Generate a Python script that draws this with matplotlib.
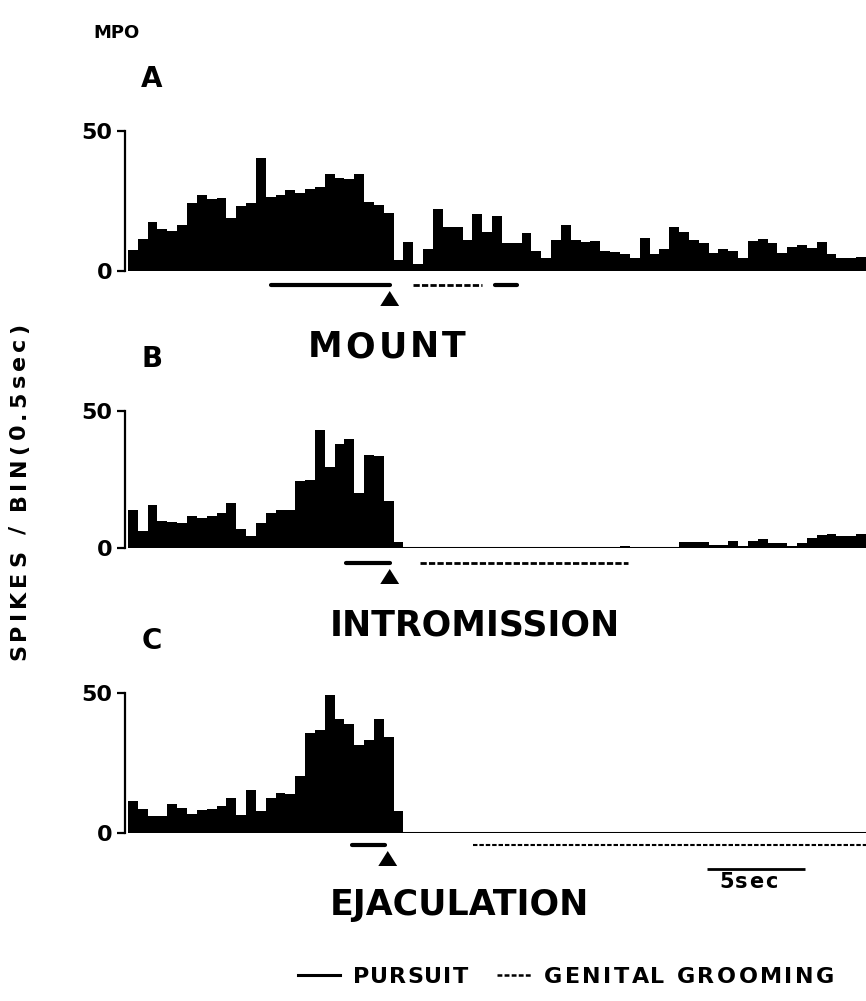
import matplotlib.pyplot as plt
from matplotlib.font_manager import FontProperties
import numpy as np

plt.rcParams["font.family"] = "DejaVu Sans"
plt.rcParams["font.weight"] = "bold"
plt.rcParams["lines.scale_dashes"] = False

W, H = 866, 1001
bin_width = 0.5  # seconds per bin

# spike counts per 0.5 s bin
mount_counts = [
    7.5, 11.6, 17.5, 15, 14.3, 16.6, 24.3, 27, 25.8, 26,
    18.9, 23.3, 24.2, 40.5, 26.5, 27, 28.9, 27.7, 29.2, 30,
    34.8, 33.3, 32.7, 34.8, 24.5, 23.5, 20.8, 3.9, 10.5, 2.4,
    7.7, 22.2, 15.8, 15.8, 11, 20.4, 14, 19.6, 9.9, 9.9,
    13.7, 7.1, 4.5, 11, 16.6, 11, 10.2, 10.7, 7.1, 6.9,
    5.9, 4.5, 11.9, 6.1, 7.8, 15.6, 13.9, 11, 10.1, 6.3,
    7.7, 7.2, 4.5, 10.8, 11.5, 9.9, 6.3, 8.7, 9.4, 8.1,
    10.5, 5.9, 4.8, 4.8, 5.1,
]
intromission_counts = [
    13.8, 6.1, 15.6, 9.9, 9.6, 9.1, 11.6, 11.1, 11.8, 12.6,
    16.5, 7, 4.5, 9.1, 12.8, 13.7, 13.8, 24.4, 24.8, 42.9,
    29.5, 38, 39.9, 19.9, 34.1, 33.4, 17.1, 2.2, 0.5, 0,
    0, 0, 0, 0, 0, 0, 0, 0, 0, 0,
    0, 0, 0, 0, 0, 0, 0, 0, 0, 0,
    0.6, 0, 0, 0, 0, 0, 2.2, 2.2, 2.2, 1.0,
    1.0, 2.4, 0.6, 2.4, 3.3, 1.8, 1.8, 0.6, 1.8, 3.7,
    4.6, 5.2, 4.5, 4.3, 5.1,
]
ejaculation_counts = [
    11.3, 8.5, 6.1, 6.1, 10.2, 8.8, 6.9, 8.3, 8.5, 9.5,
    12.4, 6.3, 15.5, 7.9, 12.6, 14.3, 13.8, 20.5, 35.7, 36.7,
    49.4, 40.7, 39, 31.5, 33.3, 40.7, 34.3, 8, 0, 0,
    0, 0, 0, 0, 0, 0, 0, 0, 0, 0,
    0, 0, 0, 0, 0, 0, 0, 0, 0, 0,
    0, 0, 0, 0, 0, 0, 0, 0, 0, 0,
    0, 0, 0, 0, 0, 0, 0, 0, 0, 0,
    0, 0, 0, 0, 0,
]

# behaviour intervals (s) and event times (s)
mount_pursuit = [(7.25, 13.3), (18.65, 19.75)]
mount_grooming = [(14.5, 18.0)]
intromission_pursuit = [(11.1, 13.3)]
intromission_grooming = [(14.85, 25.4)]
ejaculation_pursuit = [(11.4, 13.05)]
ejaculation_grooming = [(17.55, 37.5)]
event_times = [13.3, 13.3, 13.2]
scale_bar = (29.4, 34.4)

panels = [
    # counts, pursuit, grooming, letter, title, zero px, fifty px, lane px, title x, title y, tracking
    (mount_counts, mount_pursuit, mount_grooming, "A", "MOUNT", 271, 131, 14, 308, 357, 3.0),
    (intromission_counts, intromission_pursuit, intromission_grooming, "B",
     "INTROMISSION", 548, 411, 15, 330, 636, 0.0),
    (ejaculation_counts, ejaculation_pursuit, ejaculation_grooming, "C",
     "EJACULATION", 833, 693, 12, 330, 915, 0.0),
]

fig = plt.figure(figsize=(W / 100, H / 100), dpi=100)
renderer = fig.canvas.get_renderer()
left_px, right_px = 125, 866


def tracked_text(x, y, s, size, track, vertical=False):
    """Bold text with extra spacing between letters; x, y (baseline) in px from top-left."""
    prop = FontProperties(family="DejaVu Sans", weight="bold", size=size)
    if track == 0:
        fig.text(x / W, 1 - y / H, s, fontproperties=prop, ha="left", va="baseline",
                 rotation=90 if vertical else 0, rotation_mode="anchor")
        return
    ref = renderer.get_text_width_height_descent("I", prop, ismath=False)[0]
    for k, ch in enumerate(s):
        if ch == " ":
            continue
        off = 0.0
        if k:
            off = renderer.get_text_width_height_descent(s[:k] + "I", prop, ismath=False)[0] - ref
        off += k * track
        if vertical:
            fig.text(x / W, 1 - (y - off) / H, ch, fontproperties=prop, rotation=90,
                     rotation_mode="anchor", ha="left", va="baseline")
        else:
            fig.text((x + off) / W, 1 - y / H, ch, fontproperties=prop,
                     ha="left", va="baseline")


for i, (counts, pursuit, grooming, letter, title, y0, y50, lane, tx, ty, trk) in enumerate(panels):
    ax = fig.add_axes([left_px / W, 1 - y0 / H, (right_px - left_px) / W, (y0 - y50) / H])
    edges = np.arange(len(counts) + 1) * bin_width
    ax.stairs(counts, edges, fill=True, color="black", linewidth=0)
    ax.plot([0, edges[-1]], [0, 0], color="black", lw=2.2, solid_capstyle="butt")
    ax.set_xlim(-0.15, edges[-1])
    ax.set_ylim(0, 50)

    for s in ["top", "right", "bottom"]:
        ax.spines[s].set_visible(False)
    ax.spines["left"].set_linewidth(1.6)
    ax.set_xticks([])
    ax.set_yticks([0, 50])
    ax.tick_params(axis="y", direction="out", length=6, width=1.6, pad=3,
                   labelsize=16)
    for lab in ax.get_yticklabels():
        lab.set_fontweight("bold")

    upp = (y0 - y50) / 50.0  # px per count unit
    lane_y = -lane / upp
    for a, b in pursuit:
        ax.plot([a, b], [lane_y, lane_y], color="black", lw=3.0,
                solid_capstyle="round", clip_on=False)
    dash = [4.5, 1.6] if i < 2 else [3.2, 1.4]
    for a, b in grooming:
        ax.plot([a, b], [lane_y, lane_y], color="black", lw=2.0 if i < 2 else 1.5,
                dashes=dash, dash_capstyle="butt", clip_on=False)

    # event marker
    t = event_times[i]
    tip = -(lane + 6) / upp
    base = -(lane + 21) / upp
    ax.fill([t - 0.48, t + 0.48, t], [base, base, tip], color="black",
            lw=0, clip_on=False)

    if i == 2:
        sb_y = -35.5 / upp
        ax.plot(scale_bar, [sb_y, sb_y], color="black", lw=2.0,
                solid_capstyle="butt", clip_on=False)

    fig.text(152 / W, 1 - (y50 - 52) / H, letter, ha="center", va="center",
             fontsize=20, fontweight="bold")
    tracked_text(tx, ty, title, 25, trk)

tracked_text(719, 888, "5sec", 15, 1.5)
fig.text(93 / W, 1 - 33 / H, "MPO", ha="left", va="center", fontsize=13,
         fontweight="bold")
tracked_text(25, 660, "SPIKES / BIN(0.5sec)", 16, 4.2, vertical=True)

# legend
ly = 975
fig.add_artist(plt.Line2D([298 / W, 340 / W], [1 - ly / H, 1 - ly / H],
                          color="black", lw=2.2))
tracked_text(353, ly + 8, "PURSUIT", 16, 1.0)
fig.add_artist(plt.Line2D([497 / W, 532 / W], [1 - ly / H, 1 - ly / H],
                          color="black", lw=1.8, dashes=[3.5, 1.6]))
tracked_text(544, ly + 8, "GENITAL GROOMING", 16, 2.5)

fig.savefig("out.png", dpi=100, facecolor="white")
